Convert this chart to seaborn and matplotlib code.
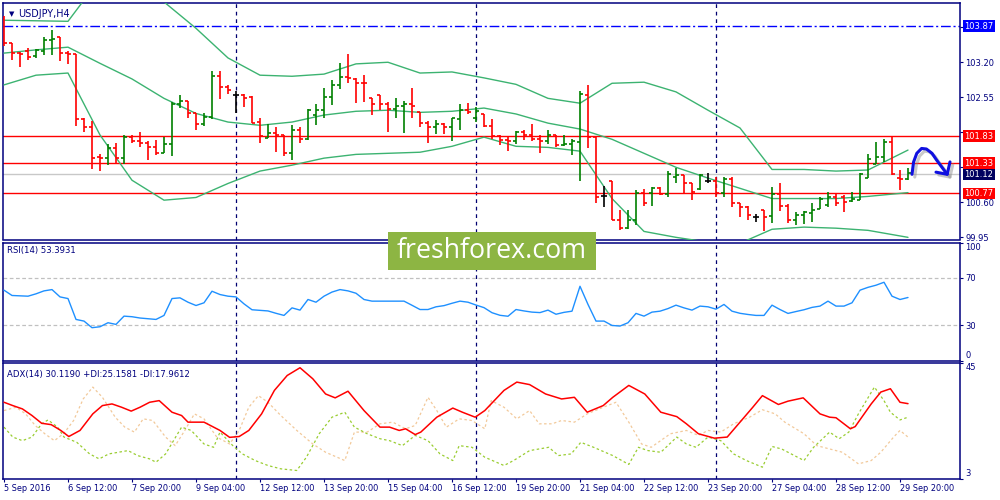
import numpy as np
import pandas as pd
import matplotlib
matplotlib.use('Agg')
import matplotlib.pyplot as plt
import matplotlib.transforms as mtransforms
import matplotlib.patches as mpatches
import matplotlib.patheffects as pe
import seaborn as sns

sns.set_theme(style='white')
plt.rcParams['font.family'] = ['DejaVu Sans']

# ---------------- data ----------------
opens = [104.00, 103.55, 103.38, 103.40, 103.31, 103.40, 103.61, 103.66, 103.38, 103.36,
         102.14, 102.00, 101.45, 101.43, 101.60, 101.43, 101.81, 101.74, 101.70, 101.63,
         101.52, 101.69, 102.43, 102.48, 102.25, 102.06, 102.19, 102.94, 102.74, 102.59,
         102.59, 102.55, 102.10, 101.80, 101.89, 101.85, 101.52, 101.94, 101.77, 102.22,
         102.31, 102.56, 102.78, 102.93, 102.89, 102.82, 102.53, 102.59, 102.42, 102.34,
         102.39, 102.42, 102.28, 102.08, 101.99, 102.05, 101.99, 102.14, 102.31, 102.17,
         102.24, 102.01, 101.83, 101.75, 101.74, 101.91, 101.85, 101.77, 101.74, 101.85,
         101.66, 101.68, 101.72, 102.59, 101.81, 100.71, 101.00, 100.28, 100.13, 100.27,
         100.77, 100.77, 100.87, 100.75, 101.07, 101.10, 100.95, 100.85, 101.00, 101.00,
         100.77, 101.04, 100.59, 100.51, 100.32, 100.46, 100.34, 100.76, 100.54, 100.27,
         100.36, 100.40, 100.48, 100.55, 100.70, 100.70, 100.62, 100.64, 101.06, 101.32,
         101.44, 101.72, 101.05, 101.04]
highs = [104.05, 103.56, 103.39, 103.46, 103.44, 103.66, 103.80, 103.67, 103.40, 103.36,
         102.16, 102.11, 101.49, 101.69, 101.70, 101.85, 101.85, 101.90, 101.73, 101.75,
         101.81, 102.47, 102.59, 102.48, 102.25, 102.25, 103.04, 103.04, 102.78, 102.67,
         102.62, 102.58, 102.16, 102.06, 102.00, 101.85, 102.03, 101.99, 102.34, 102.42,
         102.73, 102.87, 103.18, 103.36, 102.90, 102.97, 102.53, 102.59, 102.47, 102.53,
         102.48, 102.73, 102.28, 102.11, 102.12, 102.08, 102.17, 102.42, 102.45, 102.37,
         102.24, 102.14, 101.85, 101.83, 101.93, 101.95, 102.05, 101.85, 101.95, 101.85,
         101.85, 101.77, 102.67, 102.78, 101.81, 100.90, 101.00, 100.45, 100.46, 100.82,
         100.85, 100.89, 100.89, 101.18, 101.24, 101.10, 100.95, 101.12, 101.15, 101.07,
         101.07, 101.07, 100.59, 100.53, 100.38, 100.46, 100.89, 100.96, 100.56, 100.42,
         100.44, 100.59, 100.70, 100.79, 100.75, 100.73, 100.79, 101.15, 101.49, 101.72,
         101.77, 101.83, 101.20, 101.23]
lows = [103.50, 103.24, 103.12, 103.25, 103.27, 103.33, 103.33, 103.22, 103.16, 102.01,
        101.91, 101.21, 101.18, 101.29, 101.32, 101.32, 101.70, 101.63, 101.39, 101.47,
        101.51, 101.46, 102.36, 102.16, 101.95, 102.01, 102.14, 102.52, 102.61, 102.26,
        102.37, 102.08, 101.70, 101.80, 101.54, 101.46, 101.39, 101.70, 101.75, 102.03,
        102.17, 102.40, 102.71, 102.81, 102.45, 102.47, 102.22, 102.31, 101.91, 102.16,
        101.89, 102.17, 101.99, 101.70, 101.86, 101.86, 101.74, 101.95, 102.24, 102.10,
        101.99, 101.77, 101.66, 101.55, 101.68, 101.75, 101.74, 101.52, 101.69, 101.62,
        101.64, 101.47, 101.00, 101.60, 100.59, 100.51, 100.27, 100.09, 100.11, 100.17,
        100.54, 100.53, 100.73, 100.69, 100.96, 100.77, 100.64, 100.82, 100.95, 100.69,
        100.70, 100.51, 100.33, 100.28, 100.24, 100.07, 100.22, 100.44, 100.22, 100.17,
        100.20, 100.24, 100.47, 100.51, 100.53, 100.42, 100.61, 100.64, 101.06, 101.32,
        101.35, 101.10, 100.82, 101.02]
closes = [103.55, 103.38, 103.36, 103.29, 103.43, 103.62, 103.64, 103.38, 103.36, 102.14,
          102.00, 101.43, 101.42, 101.60, 101.43, 101.81, 101.74, 101.70, 101.63, 101.51,
          101.69, 102.43, 102.48, 102.25, 102.06, 102.19, 102.94, 102.74, 102.69, 102.59,
          102.53, 102.08, 101.83, 101.89, 101.85, 101.52, 101.94, 101.77, 102.31, 102.31,
          102.56, 102.78, 102.93, 102.90, 102.82, 102.81, 102.43, 102.42, 102.34, 102.39,
          102.42, 102.39, 102.08, 101.99, 102.05, 101.99, 102.16, 102.31, 102.28, 102.30,
          102.01, 101.83, 101.75, 101.74, 101.91, 101.85, 101.77, 101.74, 101.85, 101.66,
          101.68, 101.74, 102.62, 101.81, 100.70, 100.71, 100.28, 100.13, 100.27, 100.77,
          100.58, 100.87, 100.75, 101.13, 101.10, 100.95, 100.79, 101.10, 101.00, 100.77,
          101.04, 100.59, 100.51, 100.36, 100.32, 100.33, 100.76, 100.54, 100.27, 100.36,
          100.42, 100.45, 100.67, 100.70, 100.58, 100.61, 100.66, 101.12, 101.41, 101.44,
          101.72, 101.12, 101.04, 101.15]

bb_idx = [0, 4, 8, 12, 16, 20, 24, 28, 32, 36, 40, 44, 48, 52, 56, 60, 64, 68, 72, 76,
          80, 84, 88, 92, 96, 100, 104, 108, 113]
bb_upper = [103.98, 103.97, 103.96, 104.75, 104.85, 104.32, 103.83, 103.28, 102.96, 102.94,
            102.98, 103.17, 103.20, 103.00, 103.02, 102.91, 102.79, 102.53, 102.44, 102.81,
            102.83, 102.65, 102.31, 101.98, 101.21, 101.21, 101.18, 101.20, 101.57]
bb_middle = [103.37, 103.43, 103.48, 103.18, 102.89, 102.53, 102.25, 102.09, 102.03, 102.09,
             102.22, 102.29, 102.31, 102.27, 102.29, 102.35, 102.24, 102.07, 101.96, 101.77,
             101.51, 101.25, 101.05, 100.86, 100.67, 100.67, 100.67, 100.71, 100.78]
bb_lower = [102.78, 102.96, 103.00, 101.85, 101.01, 100.64, 100.69, 100.95, 101.18, 101.29,
            101.42, 101.49, 101.51, 101.53, 101.64, 101.81, 101.64, 101.62, 101.55, 100.67,
            100.06, 99.95, 99.86, 99.84, 100.10, 100.14, 100.12, 100.08, 99.95]

red_levels = [101.83, 101.33, 100.77]
blue_level = 103.87
bid_price = 101.12
price_ticks = [99.95, 100.60, 101.25, 101.90, 102.55, 103.20, 103.85]
price_tick_labels = ['99.95', '100.60', '', '', '102.55', '103.20', '103.85']

rsi = [59.6, 55.1, 54.8, 54.5, 56.5, 59.0, 60.1, 53.9, 52.5, 34.8,
       33.4, 27.8, 28.6, 32.0, 30.6, 37.6, 37.1, 36.0, 35.4, 34.8,
       38.2, 52.5, 53.1, 49.4, 46.6, 48.9, 58.7, 55.9, 54.5, 53.9,
       48.0, 43.0, 42.5, 42.0, 40.0, 38.2, 44.6, 42.7, 51.7, 49.4,
       54.5, 58.0, 60.1, 59.0, 57.0, 51.7, 50.3, 50.3, 50.3, 50.3,
       50.3, 46.8, 43.2, 43.2, 45.5, 46.5, 48.5, 50.3, 49.4, 47.0,
       44.8, 40.5, 38.3, 37.5, 43.2, 42.0, 41.0, 40.6, 42.7, 39.2,
       40.8, 41.8, 62.9, 47.5, 33.4, 33.4, 29.7, 29.2, 32.0, 39.9,
       37.6, 41.0, 41.8, 44.0, 46.9, 44.6, 42.7, 46.1, 45.5, 43.5,
       47.5, 41.8, 40.0, 39.0, 38.2, 38.2, 46.9, 43.2, 39.9, 41.5,
       43.0, 45.0, 46.1, 50.3, 46.1, 46.1, 48.9, 59.6, 62.0, 63.8,
       66.3, 54.5, 51.7, 53.4]
rsi_levels = [30, 70]

adx_pts = [(0, 30.6), (1.1, 29.4), (2.3, 28.2), (3.5, 25.8), (4.7, 23.0), (5.9, 22.5), (7.1, 20.4),
           (8.1, 18.2), (9.5, 20.4), (11.1, 26.4), (12.3, 29.4), (13.5, 30.0), (14.7, 28.8),
           (15.9, 27.4), (17.0, 28.8), (18.2, 30.6), (19.4, 31.2), (21.0, 27.0), (22.2, 25.8),
           (23.0, 23.4), (25.0, 23.4), (27.0, 20.4), (28.2, 17.9), (29.4, 18.2), (30.6, 20.4),
           (32.2, 26.4), (33.8, 34.9), (35.4, 40.3), (37.0, 43.1), (38.6, 39.1), (40.2, 33.6),
           (41.4, 32.2), (43.0, 34.6), (45.0, 27.6), (47.0, 21.6), (48.2, 21.6), (49.4, 20.4),
           (50.2, 21.0), (51.4, 18.9), (52.1, 19.8), (54.1, 25.2), (56.1, 28.5), (57.3, 27.0),
           (58.9, 25.2), (60.1, 27.6), (62.5, 34.9), (64.1, 37.9), (65.7, 37.0), (67.7, 33.6),
           (69.7, 31.8), (71.3, 32.4), (72.9, 27.0), (74.9, 29.4), (76.1, 32.4), (78.1, 36.7),
           (80.1, 33.6), (82.1, 27.0), (84.1, 25.4), (85.3, 22.8), (86.8, 19.2), (88.8, 17.6),
           (90.4, 18.0), (92.0, 23.4), (93.6, 28.8), (94.8, 33.0), (96.8, 29.8), (98.0, 31.0),
           (99.9, 32.2), (102.0, 26.4), (103.2, 25.2), (104.0, 25.0), (105.8, 21.0), (106.4, 21.8),
           (108.4, 30.0), (109.6, 34.3), (110.8, 35.5), (112.0, 30.6), (113.0, 30.1)]
pdi_pts = [(0, 21.6), (1.1, 18.0), (2.3, 16.7), (3.5, 18.0), (4.7, 22.8), (5.5, 24.2), (6.7, 21.6),
           (7.5, 18.0), (9.1, 16.1), (10.7, 11.9), (11.9, 10.1), (13.1, 11.9), (14.3, 12.5),
           (15.5, 13.1), (16.7, 11.3), (18.2, 10.1), (19.0, 8.9), (20.2, 11.9), (22.2, 21.6),
           (23.4, 20.4), (25.0, 15.5), (26.2, 14.3), (27.0, 19.8), (28.6, 14.9), (29.8, 11.9),
           (31.4, 9.5), (33.0, 7.7), (34.6, 6.5), (36.6, 5.9), (37.8, 10.7), (39.4, 19.2),
           (41.0, 25.2), (42.6, 27.0), (43.8, 21.6), (45.4, 19.2), (47.0, 17.4), (48.2, 16.7),
           (49.8, 14.9), (51.4, 18.6), (53.0, 16.7), (54.5, 11.9), (56.1, 9.5), (56.9, 14.9),
           (58.5, 14.3), (60.1, 10.7), (62.5, 7.7), (63.7, 9.5), (65.7, 13.1), (68.1, 14.3),
           (69.3, 11.3), (70.9, 11.9), (72.1, 16.1), (73.7, 14.3), (76.1, 11.3), (78.1, 8.1),
           (79.3, 14.3), (80.5, 13.1), (82.1, 12.5), (84.1, 18.0), (85.3, 15.5), (86.5, 14.3),
           (88.0, 18.0), (89.6, 16.7), (91.2, 11.9), (92.8, 9.5), (94.8, 7.1), (96.0, 14.6),
           (97.2, 13.7), (98.4, 11.9), (100.0, 9.5), (101.2, 14.3), (103.2, 19.8), (104.4, 17.4),
           (105.6, 19.8), (106.8, 26.4), (108.8, 36.1), (110.0, 31.2), (110.8, 27.0),
           (112.0, 24.2), (113.0, 25.2)]
mdi_pts = [(0, 27.6), (1.5, 28.8), (2.7, 26.4), (3.9, 22.2), (5.1, 19.2), (6.3, 16.7), (7.5, 19.4),
           (8.7, 24.0), (9.9, 31.8), (11.1, 36.1), (12.3, 32.4), (13.9, 25.2), (15.1, 21.6),
           (16.3, 19.8), (17.4, 24.6), (18.6, 24.0), (20.2, 18.0), (21.4, 14.9), (22.6, 20.4),
           (23.8, 26.4), (25.0, 24.6), (26.6, 18.0), (28.2, 15.5), (29.4, 20.4), (30.6, 28.8),
           (31.8, 33.0), (33.0, 30.6), (34.6, 25.8), (36.6, 20.4), (38.6, 15.5), (40.2, 12.5),
           (42.6, 9.5), (43.8, 19.8), (45.4, 19.8), (47.0, 22.8), (48.6, 23.4), (50.2, 21.0),
           (51.4, 22.2), (53.0, 32.4), (54.1, 27.6), (55.3, 21.6), (56.9, 24.6), (58.5, 24.0),
           (60.1, 21.0), (60.9, 31.2), (62.5, 28.8), (64.1, 24.6), (65.7, 27.6), (66.9, 22.8),
           (68.5, 22.8), (69.7, 24.0), (71.3, 23.4), (72.9, 26.4), (74.9, 28.8), (76.5, 30.6),
           (78.1, 23.4), (79.7, 15.5), (80.9, 14.3), (83.3, 19.2), (85.3, 20.4), (86.8, 18.6),
           (88.0, 20.4), (89.6, 19.8), (91.2, 22.8), (93.2, 25.2), (94.8, 27.9), (96.4, 26.4),
           (97.6, 23.4), (100.0, 19.2), (101.6, 14.9), (103.2, 13.7), (104.8, 12.5),
           (106.8, 8.3), (108.4, 9.5), (109.6, 12.5), (111.2, 18.0), (112.0, 20.4), (113.0, 18.0)]

separators = [29, 59, 89]
xtick_bars = [0, 8, 16, 24, 32, 40, 48, 56, 64, 72, 80, 88, 96, 104, 112]
xtick_labels = ['5 Sep 2016', '6 Sep 12:00', '7 Sep 20:00', '9 Sep 04:00', '12 Sep 12:00',
                '13 Sep 20:00', '15 Sep 04:00', '16 Sep 12:00', '19 Sep 20:00', '21 Sep 04:00',
                '22 Sep 12:00', '23 Sep 20:00', '27 Sep 04:00', '28 Sep 12:00', '29 Sep 20:00']

# hand-drawn forecast arrow (bar index, price)
arrow_x = [113.5, 113.7, 114.1, 114.7, 115.3, 116.0, 116.6, 117.2, 117.9]
arrow_y = [101.12, 101.35, 101.51, 101.60, 101.59, 101.51, 101.38, 101.26, 101.12]
arrow_wing_x = [116.5, 117.9, 118.25]
arrow_wing_y = [101.16, 101.12, 101.35]

# ---------------- styling ----------------
NAVY = '#00007f'
GREEN = '#008000'
RED = '#ff0000'
BB = '#3cb371'
W, H = 1000, 500

fig = plt.figure(figsize=(10, 5), dpi=100)
fig.patch.set_facecolor('white')


def rect(x0, y0, x1, y1):
    return [x0 / W, 1 - y1 / H, (x1 - x0) / W, (y1 - y0) / H]


ax = fig.add_axes(rect(3, 3, 960, 239.5))
ax_rsi = fig.add_axes(rect(3, 242.5, 960, 360.5))
ax_adx = fig.add_axes(rect(3, 362.5, 960, 478.5))

XMIN, XMAX = -0.125, 119.5
for a in (ax, ax_rsi, ax_adx):
    a.set_facecolor('white')
    a.set_xlim(XMIN, XMAX)
    for s in a.spines.values():
        s.set_color(NAVY)
        s.set_linewidth(1.1)
    a.yaxis.tick_right()
    a.tick_params(axis='y', colors=NAVY, labelcolor=NAVY, labelsize=6, length=2.2,
                  width=0.8, pad=1.5, direction='out', right=True, left=False)
    a.grid(False)
    for sx in separators:
        a.axvline(sx, color='#000070', lw=0.9, ls=(0, (3, 3)), zorder=1)

# ---- main price panel ----
o = np.array(opens); h = np.array(highs); l = np.array(lows); c = np.array(closes)
idx = np.arange(len(o))
cols = np.where(c > o, GREEN, np.where(c < o, RED, '#000000'))

ax.set_ylim(99.91, 104.30)
ax.axhline(blue_level, color='#0000ff', lw=1.0, ls=(0, (7, 2, 1.5, 2)), zorder=2)
ax.axhline(bid_price, color='#c8c8c8', lw=1.0, zorder=2)
for lv in red_levels:
    ax.axhline(lv, color=RED, lw=1.0, zorder=2)

for yv in (bb_upper, bb_middle, bb_lower):
    sns.lineplot(x=bb_idx, y=yv, ax=ax, color=BB, lw=1.0, errorbar=None, zorder=3)

ax.vlines(idx, l, h, colors=cols, lw=1.2, zorder=4)
ax.hlines(o, idx - 0.38, idx, colors=cols, lw=1.2, zorder=4)
ax.hlines(c, idx, idx + 0.38, colors=cols, lw=1.2, zorder=4)

shadow = [pe.SimpleLineShadow(offset=(2, -2), shadow_color='#888888', alpha=0.45), pe.Normal()]
ax.plot(arrow_x, arrow_y, color='#1010e0', lw=2.2, solid_capstyle='round', path_effects=shadow, zorder=6)
ax.plot(arrow_wing_x, arrow_wing_y, color='#1010e0', lw=2.2, solid_capstyle='round',
        solid_joinstyle='round', path_effects=shadow, zorder=6)

ax.set_yticks(price_ticks)
ax.set_yticklabels(price_tick_labels)
ax.set_xticks([])
ax.set_xlabel(''); ax.set_ylabel('')

blend = mtransforms.blended_transform_factory(fig.transFigure, ax.transData)
label_boxes = [(blue_level, '#0000ff'), (red_levels[0], RED), (red_levels[1], RED),
               (bid_price, '#000060'), (red_levels[2], RED)]
for val, fc in label_boxes:
    ax.text(0.9645, val, f'{val:.2f}', transform=blend, ha='left', va='center', fontsize=6,
            color='white', clip_on=False, zorder=10,
            bbox=dict(boxstyle='square,pad=0.14', fc=fc, ec='none'))

ax.text(0.006, 0.955, '\u25BC', transform=ax.transAxes, fontsize=5, color=NAVY, va='center', ha='left')
ax.text(0.016, 0.955, 'USDJPY,H4', transform=ax.transAxes, fontsize=6.9, color=NAVY, va='center', ha='left')

# ---- RSI panel ----
ax_rsi.set_ylim(0, 100)
for lv in rsi_levels:
    ax_rsi.axhline(lv, color='#c0c0c0', lw=0.9, ls=(0, (3, 2)), zorder=1)
sns.lineplot(x=idx, y=rsi, ax=ax_rsi, color='#1e90ff', lw=1.0, errorbar=None, zorder=3)
ax_rsi.set_yticks([0, 30, 70, 100])
ax_rsi.set_yticklabels(['0', '30', '70', '100'])
tl = ax_rsi.get_yticklabels()
tl[0].set_va('bottom'); tl[3].set_va('top')
ax_rsi.set_xticks([])
ax_rsi.set_xlabel(''); ax_rsi.set_ylabel('')
ax_rsi.text(0.004, 0.93, 'RSI(14) 53.3931', transform=ax_rsi.transAxes, fontsize=6.1,
            color=NAVY, va='center', ha='left')

# ---- ADX panel ----
ax_adx.set_ylim(3, 45)
pdf = pd.DataFrame(pdi_pts, columns=['t', 'v'])
mdf = pd.DataFrame(mdi_pts, columns=['t', 'v'])
adf = pd.DataFrame(adx_pts, columns=['t', 'v'])
sns.lineplot(data=mdf, x='t', y='v', ax=ax_adx, color='#f2c99a', lw=0.9, ls=(0, (2, 2)), errorbar=None, zorder=2)
sns.lineplot(data=pdf, x='t', y='v', ax=ax_adx, color='#9acd32', lw=0.9, ls=(0, (2, 2)), errorbar=None, zorder=2)
sns.lineplot(data=adf, x='t', y='v', ax=ax_adx, color=RED, lw=1.1, errorbar=None, zorder=3)
ax_adx.set_yticks([3, 45])
ax_adx.set_yticklabels(['3', '45'])
tl = ax_adx.get_yticklabels()
tl[0].set_va('bottom'); tl[1].set_va('top')
ax_adx.set_xticks(xtick_bars)
ax_adx.set_xticklabels(xtick_labels)
ax_adx.tick_params(axis='x', colors=NAVY, labelcolor=NAVY, labelsize=5.9, length=2.2, width=0.8,
                   pad=1.5, direction='out', bottom=True)
for t in ax_adx.get_xticklabels():
    t.set_ha('left')
ax_adx.set_xlabel(''); ax_adx.set_ylabel('')
ax_adx.text(0.004, 0.9, 'ADX(14) 30.1190 +DI:25.1581 -DI:17.9612', transform=ax_adx.transAxes,
            fontsize=6.1, color=NAVY, va='center', ha='left')

# ---- logo ----
logo = mpatches.Rectangle((388 / W, 1 - 270 / H), 208 / W, 38 / H, transform=fig.transFigure,
                          facecolor='#8db543', edgecolor='none', zorder=20)
fig.add_artist(logo)
fig.text(492 / W, 1 - 251.5 / H, 'freshforex.com', ha='center', va='center', color='white',
         fontsize=19.3, family=['Open Sans', 'DejaVu Sans'], zorder=21)

fig.savefig('out.png', dpi=100, facecolor='white')
